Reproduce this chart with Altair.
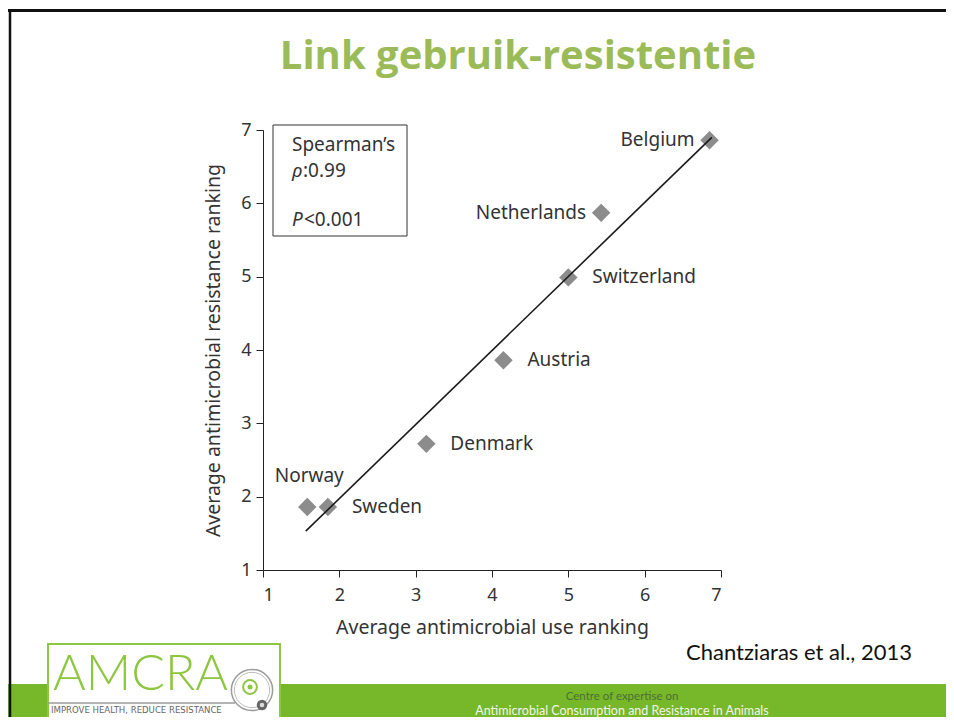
import altair as alt
import pandas as pd

# ---- data ----
countries = ["Belgium", "Netherlands", "Switzerland", "Austria", "Denmark", "Norway", "Sweden"]
use_rank = [6.85, 5.43, 5.00, 4.15, 3.14, 1.58, 1.85]
res_rank = [6.86, 5.87, 4.99, 3.86, 2.72, 1.86, 1.86]
left_labelled = ["Belgium", "Netherlands"]
above_labelled = ["Norway"]

fit_use = [1.56, 6.88]
fit_res = [1.53, 6.90]

ticks = [1, 2, 3, 4, 5, 6, 7]

title_text = "Link gebruik-resistentie"
x_title = "Average antimicrobial use ranking"
y_title = "Average antimicrobial resistance ranking"
citation = "Chantziaras et al., 2013"
footer_1 = "Centre of expertise on"
footer_2 = "Antimicrobial Consumption and Resistance in Animals"

df = pd.DataFrame({"country": countries, "use": use_rank, "res": res_rank})
fit_df = pd.DataFrame({"use": fit_use, "res": fit_res})
one = alt.Data(values=[{}])

FONT = "Noto Sans"
TXT = "#333333"

xs = alt.Scale(domain=[1, 7], nice=False, zero=False)
ys = alt.Scale(domain=[1, 7], nice=False, zero=False)

x_enc = alt.X("use:Q", scale=xs, title=x_title,
              axis=alt.Axis(values=ticks, format="d", tickSize=7, labelFontSize=18,
                            labelColor=TXT, titleFontSize=19.5, titleFontWeight="normal",
                            titleColor=TXT, domainColor="#222", tickColor="#222",
                            labelPadding=9, titlePadding=14, labelFont=FONT, titleFont=FONT,
                            grid=False))
y_enc = alt.Y("res:Q", scale=ys, title=y_title,
              axis=alt.Axis(values=ticks, format="d", tickSize=7, labelFontSize=18,
                            labelColor=TXT, titleFontSize=19.5, titleFontWeight="normal",
                            titleColor=TXT, domainColor="#222", tickColor="#222",
                            labelPadding=5, titlePadding=17, labelFont=FONT, titleFont=FONT,
                            grid=False))


def rect(x, x2, y, y2, fill, stroke=None, sw=0):
    kw = dict(fill=fill)
    if stroke:
        kw.update(stroke=stroke, strokeWidth=sw)
    return alt.Chart(one).mark_rect(**kw).encode(
        x=alt.value(x), x2=alt.value(x2), y=alt.value(y), y2=alt.value(y2))


def hrule(x, x2, y, color, sw):
    return alt.Chart(one).mark_rule(color=color, strokeWidth=sw).encode(
        x=alt.value(x), x2=alt.value(x2), y=alt.value(y))


def vrule(x, y, y2, color, sw):
    return alt.Chart(one).mark_rule(color=color, strokeWidth=sw).encode(
        x=alt.value(x), y=alt.value(y), y2=alt.value(y2))


def text(t, x, y, size, color=TXT, font=FONT, align="left", weight="normal", style="normal"):
    return alt.Chart(one).mark_text(text=t, fontSize=size, color=color, font=font,
                                    align=align, baseline="middle", fontWeight=weight,
                                    fontStyle=style).encode(x=alt.value(x), y=alt.value(y))


def dot(x, y, size, fill=None, stroke=None, sw=1):
    kw = dict(shape="circle", size=size, opacity=1)
    if fill:
        kw.update(filled=True, fill=fill)
    else:
        kw.update(filled=False, fill=None)
    if stroke:
        kw.update(stroke=stroke, strokeWidth=sw)
    return alt.Chart(one).mark_point(**kw).encode(x=alt.value(x), y=alt.value(y))


# slide decoration (coordinates relative to plot origin)
footer = rect(-255, 683, 554, 600, "#76B82A")
border_top = hrule(-255, 900, -119.5, "#111111", 3)
border_left = vrule(-253, -121, 600, "#111111", 2.5)

logo_box = rect(-215, 17, 514, 600, "#FFFFFF", "#8DC63F", 2)
logo_line = hrule(-215, -28, 573, "#9a9a9a", 1.5)
logo_word = text("AMCRA", -210, 545, 50, color="#8DC63F", font="Lato", weight=300)
logo_tag = text("IMPROVE HEALTH, REDUCE RESISTANCE", -212, 580, 9.5, color="#666666",
                font="DejaVu Sans Condensed, DejaVu Sans")
logo_ring1 = dot(-11, 560, 1700, stroke="#9a9a9a", sw=1.5)
logo_ring2 = dot(-11, 560, 1250, stroke="#bbbbbb", sw=1)
logo_g1 = dot(-13, 557, 190, stroke="#8DC63F", sw=2)
logo_g2 = dot(-13, 557, 25, fill="#8DC63F")
logo_d1 = dot(-1, 575, 110, fill="#666666")
logo_d2 = dot(-1, 575, 20, fill="#dddddd")

title = text(title_text, 255, -73, 40, color="#9BBB59", font="Open Sans", align="center", weight="bold")
cite = text(citation, 423, 523, 22, color="#111111", font="Lato")
f1 = text(footer_1, 359, 567, 11.5, color="#4E6E33", font="Lato", align="center")
f2 = text(footer_2, 359, 581, 12.5, color="#F2F5EA", font="Lato", align="center")

# statistics box
BOXF = 19
box = rect(10, 144, -5, 106, "#FFFFFF", "#333333", 1)
s1 = text("Spearman\u2019s", 29, 15, BOXF)
s2a = text("\u03c1", 29, 41, BOXF, style="italic")
s2b = text(":0.99", 40, 41, BOXF)
s3a = text("P", 29, 90, BOXF, style="italic")
s3b = text("<0.001", 41, 90, BOXF)

# data layers
base = alt.Chart(df)
pts = base.mark_point(shape="diamond", filled=True, color="#8C8C8C", size=340, opacity=1).encode(
    x=x_enc, y=y_enc)
fit = alt.Chart(fit_df).mark_line(color="#1a1a1a", strokeWidth=1.6).encode(
    x=alt.X("use:Q", scale=xs), y=alt.Y("res:Q", scale=ys))
LBLF = 19
lab_left = base.transform_filter(alt.FieldOneOfPredicate(field="country", oneOf=left_labelled)).mark_text(
    align="right", baseline="middle", dx=-15, fontSize=LBLF, font=FONT, color=TXT).encode(
    x=alt.X("use:Q", scale=xs), y=alt.Y("res:Q", scale=ys), text="country:N")
lab_above = base.transform_filter(alt.FieldOneOfPredicate(field="country", oneOf=above_labelled)).mark_text(
    align="center", baseline="middle", dx=2, dy=-31, fontSize=LBLF, font=FONT, color=TXT).encode(
    x=alt.X("use:Q", scale=xs), y=alt.Y("res:Q", scale=ys), text="country:N")
lab_right = base.transform_filter(
    ~alt.FieldOneOfPredicate(field="country", oneOf=left_labelled + above_labelled)).mark_text(
    align="left", baseline="middle", dx=24, fontSize=LBLF, font=FONT, color=TXT).encode(
    x=alt.X("use:Q", scale=xs), y=alt.Y("res:Q", scale=ys), text="country:N")

chart = alt.layer(
    footer, border_top, border_left,
    logo_box, logo_line, logo_word, logo_tag, logo_ring1, logo_ring2, logo_g1, logo_g2, logo_d1, logo_d2,
    title, cite, f1, f2,
    box, s1, s2a, s2b, s3a, s3b,
    pts, fit, lab_left, lab_above, lab_right,
).properties(
    width=458, height=440,
    background="#FFFFFF",
    autosize=alt.AutoSizeParams(type="none"),
    padding={"left": 255, "top": 122, "right": 225, "bottom": 147},
).configure_view(stroke=None)

chart.save("out.html", embed_options={"renderer": "svg", "actions": False})
